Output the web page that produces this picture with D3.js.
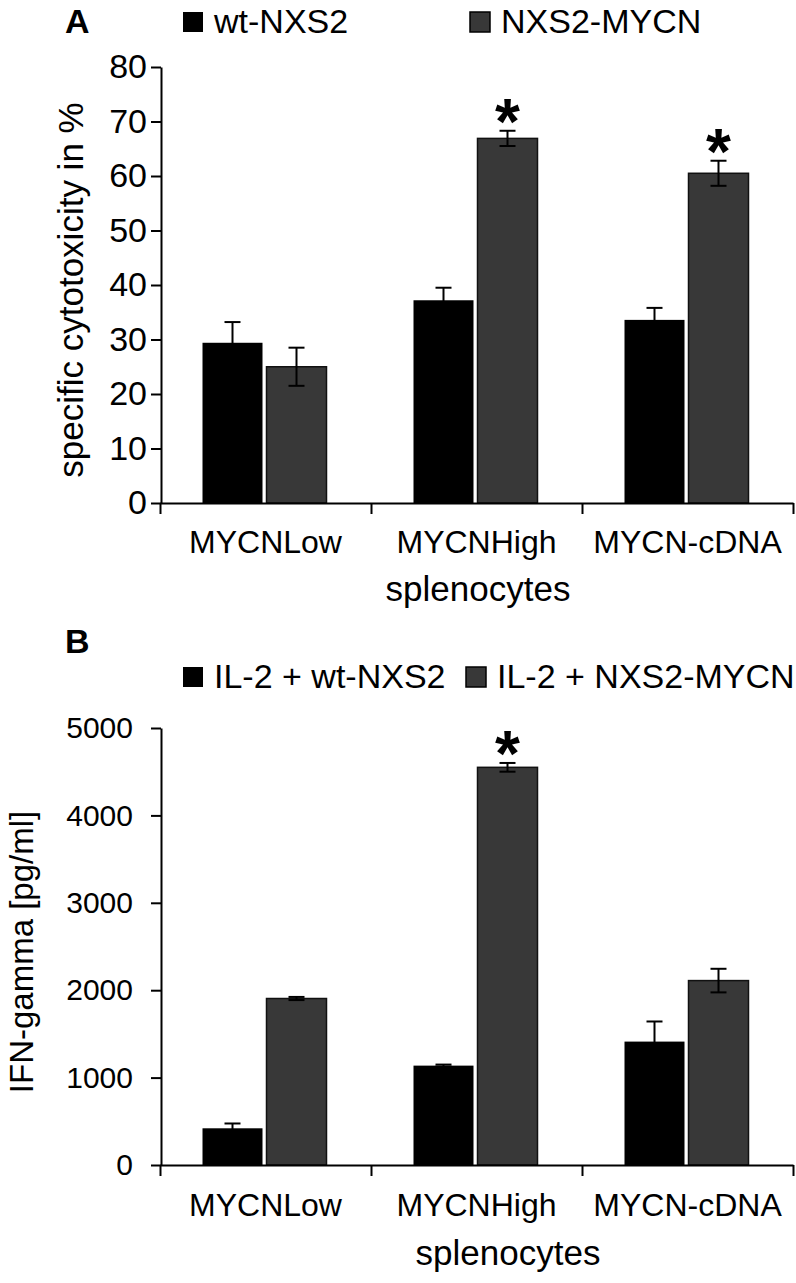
<!DOCTYPE html>
<html>
<head>
<meta charset="utf-8">
<style>
	body { margin: 0; background: #fff; }
	text { font-family: "Liberation Sans", Arial, sans-serif; fill: #000; }
</style>
</head>
<body>
<div id="chart"></div>

<script src="https://cdnjs.cloudflare.com/ajax/libs/d3/7.8.5/d3.min.js"></script>
<script>

// groups on the x axis (same for both panels)
var categories = ["MYCNLow", "MYCNHigh", "MYCN-cDNA"];

// panel A - specific cytotoxicity in %
var seriesA = ["wt-NXS2", "NXS2-MYCN"];
var cytoWt = [29.4, 37.2, 33.6];
var cytoWtErr = [3.8, 2.3, 2.2];
var cytoMycn = [25.0, 66.9, 60.5];
var cytoMycnErr = [3.5, 1.4, 2.3];
var starsA = [false, true, true];
var ticksA = [0, 10, 20, 30, 40, 50, 60, 70, 80];

// panel B - IFN-gamma [pg/ml]
var seriesB = ["IL-2 + wt-NXS2", "IL-2 + NXS2-MYCN"];
var ifnWt = [420, 1137, 1412];
var ifnWtErr = [55, 12, 230];
var ifnMycn = [1905, 4550, 2110];
var ifnMycnErr = [18, 50, 135];
var starsB = [false, true, false];
var ticksB = [0, 1000, 2000, 3000, 4000, 5000];

var colors = ["#000000", "#383838"];

var W = 796, H = 1283;

var svg = d3.select("#chart").append("svg")
	.attr("width", W)
	.attr("height", H);

var x0 = d3.scaleBand()
	.domain(categories)
	.range([160, 793]);

var x1 = d3.scaleBand()
	.range([0, 124])
	.paddingInner(0.0625);

function txt(g, x, y, s, size, anchor, weight) {
	return g.append("text")
		.attr("x", x)
		.attr("y", y)
		.attr("font-size", size)
		.attr("text-anchor", anchor || "start")
		.attr("font-weight", weight || "normal")
		.text(s);
}

function drawPanel(p) {
	var g = svg.append("g");

	var y = d3.scaleLinear()
		.domain([0, p.max])
		.range(p.yRange);

	x1.domain(p.series);

	// panel letter + legend
	txt(g, 65, p.letterY, p.letter, 34, "start", "bold");
	p.series.forEach(function(s, i) {
		g.append("rect")
			.attr("x", p.legendX[i])
			.attr("y", p.legendY - 20)
			.attr("width", 20)
			.attr("height", 20)
			.attr("fill", colors[i])
			.attr("stroke", i ? "#000" : "none")
			.attr("stroke-width", 1.5);
		txt(g, p.legendX[i] + 31, p.legendY + 1, s, 34);
	});

	// bars
	var rows = [];
	categories.forEach(function(c, j) {
		p.series.forEach(function(s, i) {
			rows.push({cat: c, s: s, i: i, v: p.values[i][j], e: p.errors[i][j], star: i == 1 && p.stars[j]});
		});
	});

	var bx = function(d) { return x0(d.cat) + x0.bandwidth() / 2 - 63 + x1(d.s); };

	g.selectAll(".bar").data(rows).enter().append("rect")
		.attr("class", "bar")
		.attr("x", bx)
		.attr("y", function(d) { return y(d.v); })
		.attr("width", x1.bandwidth())
		.attr("height", function(d) { return y(0) - y(d.v); })
		.attr("fill", function(d) { return colors[d.i]; })
		.attr("stroke", function(d) { return d.i ? "#111" : "none"; })
		.attr("stroke-width", 1.5);

	// error bars
	var eb = g.selectAll(".err").data(rows).enter().append("g")
		.attr("class", "err")
		.attr("stroke", "#000")
		.attr("stroke-width", 2);
	eb.append("line")
		.attr("x1", function(d) { return bx(d) + x1.bandwidth() / 2; })
		.attr("x2", function(d) { return bx(d) + x1.bandwidth() / 2; })
		.attr("y1", function(d) { return y(d.v - d.e); })
		.attr("y2", function(d) { return y(d.v + d.e); });
	[1, -1].forEach(function(sign) {
		eb.append("line")
			.attr("x1", function(d) { return bx(d) + x1.bandwidth() / 2 - 8; })
			.attr("x2", function(d) { return bx(d) + x1.bandwidth() / 2 + 8; })
			.attr("y1", function(d) { return y(d.v + sign * d.e); })
			.attr("y2", function(d) { return y(d.v + sign * d.e); });
	});

	// significance stars
	g.selectAll(".star").data(rows.filter(function(d) { return d.star; })).enter().append("text")
		.attr("class", "star")
		.attr("x", function(d) { return bx(d) + x1.bandwidth() / 2; })
		.attr("y", function(d) { return y(d.v + d.e) + 13; })
		.attr("text-anchor", "middle")
		.attr("font-size", 64)
		.attr("font-weight", "bold")
		.text("*");

	// y axis
	var ya = g.append("g")
		.attr("transform", "translate(161,0)")
		.call(d3.axisLeft(y).tickValues(p.ticks).tickSize(10).tickSizeOuter(0)
			.tickPadding(p.tickPad).tickFormat(d3.format("d")));
	ya.selectAll("path, line").attr("stroke", "#000").attr("stroke-width", 2);
	ya.selectAll("text")
		.attr("font-size", p.tickFont)
		.attr("font-family", "Liberation Sans, Arial, sans-serif")
		.attr("fill", "#000");

	// x axis, ticks on the group borders
	var edge = d3.scaleLinear().domain([0, categories.length]).range(x0.range());
	var xa = g.append("g")
		.attr("transform", "translate(0," + y(0) + ")")
		.call(d3.axisBottom(edge).tickValues(d3.range(categories.length + 1)).tickSize(11).tickSizeOuter(0).tickFormat(""));
	xa.selectAll("path, line").attr("stroke", "#000").attr("stroke-width", 2);

	categories.forEach(function(c) {
		txt(g, x0(c) + x0.bandwidth() / 2, p.catY, c, 32, "middle");
	});
	txt(g, p.xTitleX, p.xTitleY, "splenocytes", 35, "middle");

	g.append("text")
		.attr("transform", "translate(" + p.yTitleX + "," + p.yTitleY + ") rotate(-90)")
		.attr("text-anchor", "middle")
		.attr("font-size", p.yTitleFont)
		.text(p.yTitle);
}

drawPanel({
	letter: "A", letterY: 33,
	series: seriesA, legendX: [183, 470], legendY: 32,
	values: [cytoWt, cytoMycn], errors: [cytoWtErr, cytoMycnErr], stars: starsA,
	max: 80, ticks: ticksA, yRange: [503, 67], tickFont: 34, tickPad: 4,
	catY: 553, xTitleX: 478, xTitleY: 601,
	yTitle: "specific cytotoxicity in %", yTitleX: 83, yTitleY: 290, yTitleFont: 35
});

drawPanel({
	letter: "B", letterY: 653,
	series: seriesB, legendX: [183, 466], legendY: 687,
	values: [ifnWt, ifnMycn], errors: [ifnWtErr, ifnMycnErr], stars: starsB,
	max: 5000, ticks: ticksB, yRange: [1165, 728], tickFont: 30, tickPad: 18,
	catY: 1216, xTitleX: 508, xTitleY: 1265,
	yTitle: "IFN-gamma [pg/ml]", yTitleX: 33, yTitleY: 952, yTitleFont: 33
});

</script>
</body>
</html>
